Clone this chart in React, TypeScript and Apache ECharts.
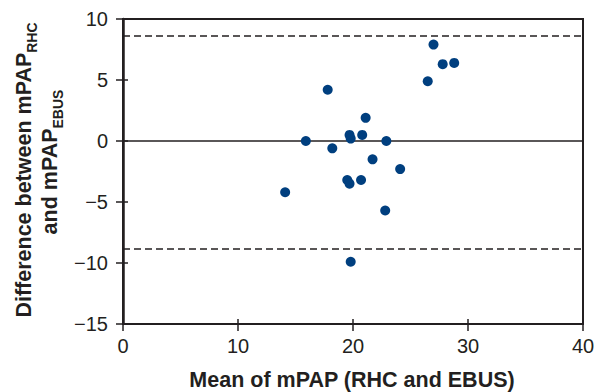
import React, { useEffect, useRef } from "react";
import * as echarts from "echarts";

// Bland–Altman data: mean of mPAP (x) and difference RHC − EBUS (y)
const meanValues = [27.0, 27.8, 28.8, 26.5, 17.8, 21.1, 19.7, 19.8, 20.8, 15.9, 22.9, 18.2, 21.7, 24.1, 19.5, 19.7, 20.7, 14.1, 22.8, 19.8];
const diffValues = [7.9, 6.3, 6.4, 4.9, 4.2, 1.9, 0.5, 0.2, 0.5, 0.0, 0.0, -0.6, -1.5, -2.3, -3.2, -3.5, -3.2, -4.2, -5.7, -9.9];
const referenceLine = 0;
const upperLimit = 8.6;
const lowerLimit = -8.8;

const xTicks = { min: 0, max: 40, interval: 10 };
const yTicks = { min: -15, max: 10, interval: 5 };

const xTitle = "Mean of mPAP (RHC and EBUS)";
const yTitleLine1 = ["Difference between mPAP", "RHC"];
const yTitleLine2 = ["and mPAP", "EBUS"];

const INK = "#231f20";
const DOT = "#003f7f";
const FONT = '"Liberation Sans", Arial, Helvetica, sans-serif';

export default function App() {
  const ref = useRef<HTMLDivElement>(null);

  useEffect(() => {
    document.body.style.margin = "0";
    if (!ref.current) return;
    const chart = echarts.init(ref.current, null, { renderer: "svg" });

    const minus = (v: number) => String(v).replace("-", "\u2212");
    const gridPos = { left: 123, right: 21, top: 19, bottom: 68 };

    const richTitle = (main: string, sub: string) => ({
      text: `{m|${main}}{s|${sub}}`,
      rich: {
        m: { fontSize: 21.5, fontWeight: "bold", fontFamily: FONT, fill: INK, lineHeight: 30 },
        s: { fontSize: 14, fontWeight: "bold", fontFamily: FONT, fill: INK, verticalAlign: "bottom" },
      },
      align: "center",
      verticalAlign: "middle",
      textAlign: "center",
      textVerticalAlign: "middle",
    });

    chart.setOption({
      animation: false,
      backgroundColor: "#ffffff",
      grid: [
        { ...gridPos, show: true, borderColor: INK, borderWidth: 2, backgroundColor: "transparent" },
        { ...gridPos, show: false },
      ],
      xAxis: [
        {
          type: "value",
          gridIndex: 0,
          position: "bottom",
          ...xTicks,
          axisLine: { show: true, onZero: false, lineStyle: { color: INK, width: 2 } },
          axisTick: { show: true, inside: false, length: 7, lineStyle: { color: INK, width: 1.5 } },
          axisLabel: { fontSize: 20, color: INK, margin: 12, fontFamily: FONT },
          splitLine: { show: false },
        },
        {
          type: "value",
          gridIndex: 1,
          position: "bottom",
          ...xTicks,
          axisLine: { show: false, onZero: false },
          axisTick: { show: true, inside: true, length: 5, lineStyle: { color: INK, width: 1.5 } },
          axisLabel: { show: false },
          splitLine: { show: false },
        },
      ],
      yAxis: [
        {
          type: "value",
          gridIndex: 0,
          position: "left",
          ...yTicks,
          axisLine: { show: true, onZero: false, lineStyle: { color: INK, width: 2.5 } },
          axisTick: { show: true, inside: false, length: 7, lineStyle: { color: INK, width: 1.5 } },
          axisLabel: { fontSize: 20, color: INK, margin: 15, fontFamily: FONT, formatter: minus },
          splitLine: { show: false },
        },
        {
          type: "value",
          gridIndex: 1,
          position: "left",
          ...yTicks,
          axisLine: { show: false, onZero: false },
          axisTick: { show: true, inside: true, length: 5, lineStyle: { color: INK, width: 1.5 } },
          axisLabel: { show: false },
          splitLine: { show: false },
        },
      ],
      series: [
        {
          type: "line",
          xAxisIndex: 0,
          yAxisIndex: 0,
          data: [],
          z: 1,
          markLine: {
            silent: true,
            symbol: "none",
            label: { show: false },
            data: [
              { yAxis: referenceLine, lineStyle: { color: INK, width: 1.5, type: "solid" } },
              { yAxis: upperLimit, lineStyle: { color: INK, width: 1.5, type: [7, 4] } },
              { yAxis: lowerLimit, lineStyle: { color: INK, width: 1.5, type: [7, 4] } },
            ],
          },
        },
        {
          type: "scatter",
          xAxisIndex: 0,
          yAxisIndex: 0,
          z: 5,
          symbol: "circle",
          symbolSize: 10,
          itemStyle: { color: DOT, opacity: 1 },
          data: meanValues.map((x, i) => [x, diffValues[i]]),
        },
      ],
      graphic: [
        {
          type: "text",
          x: 352,
          y: 380,
          style: {
            text: xTitle,
            fontSize: 21.5,
            fontWeight: "bold",
            fontFamily: FONT,
            fill: INK,
            align: "center",
            verticalAlign: "middle",
            textAlign: "center",
            textVerticalAlign: "middle",
          },
        },
        {
          type: "text",
          x: 23.5,
          y: 170,
          rotation: Math.PI / 2,
          style: richTitle(yTitleLine1[0], yTitleLine1[1]),
        },
        {
          type: "text",
          x: 50,
          y: 162,
          rotation: Math.PI / 2,
          style: richTitle(yTitleLine2[0], yTitleLine2[1]),
        },
      ],
    });

    return () => chart.dispose();
  }, []);

  return <div ref={ref} style={{ width: 604, height: 392 }} />;
}
